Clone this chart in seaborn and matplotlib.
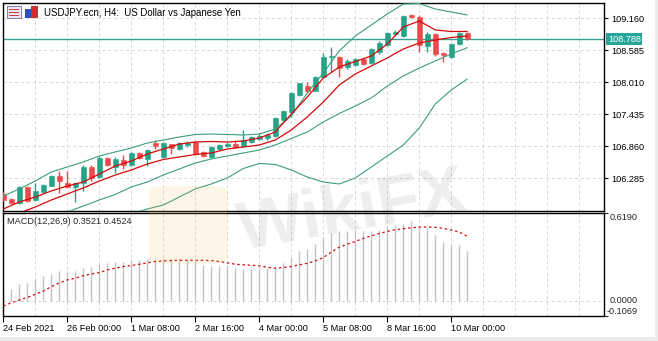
import numpy as np
import pandas as pd
import matplotlib
matplotlib.use("Agg")
import matplotlib.pyplot as plt
import seaborn as sns
from matplotlib.patches import Rectangle, FancyBboxPatch

sns.set_theme(style="white")
plt.rcParams["font.family"] = ["Liberation Sans", "DejaVu Sans"]

# ---------------- data ----------------
title = "USDJPY.ecn, H4:  US Dollar vs Japanese Yen"
macd_label = "MACD(12,26,9) 0.3521 0.4524"

opens = [106.00, 105.91, 105.84, 106.13, 105.89, 106.04, 106.15, 106.33, 106.20, 106.13,
         106.20, 106.49, 106.31, 106.65, 106.49, 106.61, 106.52, 106.74, 106.63, 106.92,
         106.67, 106.90, 106.81, 106.88, 106.94, 106.75, 106.67, 106.82, 106.87, 106.91,
         106.87, 106.94, 106.99, 107.00, 107.05, 107.33, 107.48, 107.78, 107.94, 107.86,
         108.10, 108.47, 108.47, 108.29, 108.32, 108.43, 108.36, 108.55, 108.68, 108.88,
         108.84, 109.22, 109.18, 108.66, 108.88, 108.54, 108.47, 108.70, 108.90]
highs = [106.04, 105.93, 106.15, 106.14, 106.20, 106.19, 106.34, 106.42, 106.42, 106.22,
         106.52, 106.52, 106.69, 106.67, 106.67, 106.70, 106.76, 106.76, 106.81, 106.97,
         106.94, 106.91, 106.94, 106.95, 106.95, 106.77, 106.87, 106.90, 106.93, 106.97,
         107.15, 107.05, 107.10, 107.10, 107.39, 107.52, 107.84, 108.00, 108.01, 108.13,
         108.53, 108.65, 108.49, 108.43, 108.45, 108.45, 108.63, 108.75, 108.92, 108.95,
         109.22, 109.24, 109.22, 108.92, 108.90, 108.55, 108.72, 108.92, 108.92]
lows = [105.87, 105.82, 105.83, 105.86, 105.87, 106.02, 106.14, 106.02, 106.11, 105.86,
        106.05, 106.23, 106.29, 106.50, 106.38, 106.45, 106.50, 106.63, 106.50, 106.82,
        106.65, 106.72, 106.79, 106.84, 106.70, 106.67, 106.65, 106.80, 106.84, 106.83,
        106.85, 106.92, 106.97, 106.98, 107.03, 107.31, 107.39, 107.76, 107.81, 107.85,
        108.09, 108.20, 108.10, 108.24, 108.30, 108.32, 108.34, 108.52, 108.66, 108.84,
        108.82, 109.16, 108.56, 108.56, 108.48, 108.38, 108.45, 108.68, 108.77]
closes = [105.89, 105.84, 106.13, 105.88, 106.06, 106.16, 106.33, 106.24, 106.13, 106.20,
          106.49, 106.29, 106.65, 106.52, 106.63, 106.52, 106.74, 106.65, 106.79, 106.87,
          106.92, 106.83, 106.92, 106.92, 106.72, 106.69, 106.85, 106.88, 106.90, 106.84,
          106.97, 107.02, 107.05, 107.06, 107.36, 107.50, 107.81, 107.99, 107.86, 108.11,
          108.47, 108.48, 108.26, 108.39, 108.43, 108.34, 108.61, 108.72, 108.90, 108.91,
          109.20, 109.18, 108.68, 108.88, 108.52, 108.50, 108.70, 108.90, 108.788]

# indicator lines read at every second bar
line_bars = list(range(0, 59, 2))
bb_upper = [105.967, 106.093, 106.236, 106.398, 106.488, 106.578, 106.686, 106.758, 106.829, 106.919,
            106.973, 107.027, 107.072, 107.081, 107.072, 107.063, 107.081, 107.171, 107.404, 107.818,
            108.177, 108.573, 108.842, 109.040, 109.237, 109.417, 109.426, 109.327, 109.273, 109.219]
bb_mid = [105.392, 105.464, 105.536, 105.607, 105.679, 105.787, 105.895, 105.994, 106.129, 106.218,
          106.344, 106.452, 106.560, 106.632, 106.686, 106.740, 106.793, 106.883, 107.000, 107.117,
          107.297, 107.449, 107.584, 107.728, 107.944, 108.123, 108.267, 108.393, 108.519, 108.632]
bb_lower = [np.nan] * 7 + [105.230, 105.643, 105.733, 105.805, 105.949, 106.093, 106.183, 106.290,
                           106.461, 106.551, 106.533, 106.434, 106.308, 106.218, 106.183, 106.290,
                           106.488, 106.686, 106.883, 107.189, 107.620, 107.872, 108.069]
ma_fast = [105.733, 105.859, 105.949, 106.057, 106.147, 106.218, 106.362, 106.506, 106.596, 106.722,
           106.811, 106.901, 106.937, 106.946, 106.937, 106.955, 107.009, 107.117, 107.440, 107.746,
           108.087, 108.285, 108.384, 108.483, 108.698, 109.004, 109.112, 108.950, 108.923, 108.923]
ma_slow = [105.572, 105.661, 105.769, 105.895, 106.003, 106.111, 106.236, 106.344, 106.434, 106.542,
           106.623, 106.668, 106.713, 106.740, 106.811, 106.847, 106.883, 106.973, 107.153, 107.387,
           107.656, 107.962, 108.159, 108.303, 108.447, 108.608, 108.716, 108.770, 108.815, 108.842]

macd_hist = [0.070, 0.082, 0.118, 0.125, 0.153, 0.174, 0.188, 0.209, 0.212, 0.209,
             0.233, 0.237, 0.261, 0.263, 0.270, 0.275, 0.284, 0.284, 0.292, 0.292,
             0.294, 0.292, 0.292, 0.287, 0.280, 0.252, 0.245, 0.245, 0.252, 0.228,
             0.221, 0.221, 0.228, 0.228, 0.240, 0.263, 0.303, 0.346, 0.362, 0.400,
             0.444, 0.475, 0.486, 0.486, 0.498, 0.486, 0.486, 0.498, 0.515, 0.529,
             0.541, 0.562, 0.515, 0.510, 0.458, 0.409, 0.388, 0.388, 0.352]
macd_signal = [-0.037, -0.014, 0.005, 0.024, 0.045, 0.068, 0.099, 0.125, 0.146, 0.158,
               0.176, 0.188, 0.198, 0.216, 0.228, 0.240, 0.247, 0.256, 0.266, 0.275,
               0.280, 0.282, 0.284, 0.284, 0.284, 0.284, 0.282, 0.275, 0.266, 0.256,
               0.252, 0.249, 0.245, 0.235, 0.228, 0.233, 0.240, 0.252, 0.263, 0.280,
               0.303, 0.341, 0.376, 0.397, 0.416, 0.437, 0.456, 0.472, 0.486, 0.498,
               0.505, 0.512, 0.517, 0.517, 0.515, 0.508, 0.496, 0.482, 0.4524]

price_ticks = [106.285, 106.860, 107.435, 108.010, 108.585, 109.160]
macd_ticks = [0.6190, 0.0000, -0.1069]
time_tick_bars = [0, 8, 16, 24, 32, 40, 48, 56]
time_labels = ["24 Feb 2021", "26 Feb 00:00", "1 Mar 08:00", "2 Mar 16:00",
               "4 Mar 00:00", "5 Mar 08:00", "8 Mar 16:00", "10 Mar 00:00"]

# ---------------- styling ----------------
BULL = "#26a386"
BEAR = "#ec4a4a"
MA_RED = "#d40a0a"
BB_GREEN = "#3c9f78"
GRID = "#d6d6d6"
PRICE_LINE = "#3a9e9a"
FS = 6.6

W, H = 658, 341
fig = plt.figure(figsize=(W / 100, H / 100), dpi=100, facecolor="white")

def fx(px):
    return px / W

def fy(py):
    return 1 - py / H

L, R = 3, 604
ax = fig.add_axes([fx(L), fy(211), fx(R - L), fy(3) - fy(211)])
ax2 = fig.add_axes([fx(L), fy(316), fx(R - L), fy(212.5) - fy(316)])

xlim = (-0.04, 75.09)
n = len(closes)
bars = np.arange(n)
df = pd.DataFrame({"bar": bars, "open": opens, "high": highs, "low": lows, "close": closes})
df["up"] = df["close"] >= df["open"]

for a in (ax, ax2):
    a.set_facecolor("white")
    a.set_xlim(*xlim)
    for s in a.spines.values():
        s.set_color("black")
        s.set_linewidth(1.0)
    # vertical grid every 4 bars
    for gx in range(0, 76, 4):
        a.axvline(gx, color=GRID, lw=0.7, dashes=(3, 3), zorder=0)

ax.set_ylim(105.697, 109.435)
for p in price_ticks:
    ax.axhline(p, color=GRID, lw=0.7, dashes=(3, 3), zorder=0)

# candles
cols = np.where(df["up"], BULL, BEAR)
ax.vlines(df["bar"], df["low"], df["high"], colors=cols, lw=1.0, zorder=3)
body_lo = np.minimum(df["open"], df["close"])
body_h = np.maximum(np.abs(df["close"] - df["open"]), 0.012)
ax.bar(df["bar"], body_h, bottom=body_lo, width=0.62, color=cols, edgecolor=cols,
       linewidth=0.4, zorder=4)

# indicator lines
lines_df = pd.DataFrame({"bar": line_bars, "bb_upper": bb_upper, "bb_mid": bb_mid,
                         "bb_lower": bb_lower, "ma_fast": ma_fast, "ma_slow": ma_slow})
for col, c, lw in [("bb_upper", BB_GREEN, 0.8), ("bb_mid", BB_GREEN, 0.8), ("bb_lower", BB_GREEN, 0.8),
                   ("ma_fast", MA_RED, 0.9), ("ma_slow", MA_RED, 0.9)]:
    sub = lines_df[["bar", col]].dropna()
    sns.lineplot(data=sub, x="bar", y=col, ax=ax, color=c, lw=lw, legend=False, zorder=5)

# current price line and label
last = closes[-1]
ax.axhline(last, color=PRICE_LINE, lw=1.0, zorder=2)
ax.set_xlabel("")
ax.set_ylabel("")
ax.yaxis.tick_right()
ax.set_yticks(price_ticks)
ax.set_yticklabels([f"{p:.3f}" for p in price_ticks], fontsize=FS)
ax.tick_params(axis="y", which="both", direction="out", length=3, width=0.8, pad=2,
               colors="black", right=True, left=False)
ax.set_xticks([])
ax.text(1.0065, last, f"{last:.3f}", transform=ax.get_yaxis_transform(), fontsize=FS,
        color="white", va="center", ha="left",
        bbox=dict(boxstyle="square,pad=0.18", fc="#26a69a", ec="none"), zorder=10,
        clip_on=False)

# MACD panel
ax2.set_ylim(-0.1069, 0.619)
ax2.axhline(0.0, color=GRID, lw=0.7, dashes=(3, 3), zorder=0)
ax2.vlines(bars, 0, macd_hist, colors="#c3c3c3", lw=1.0, zorder=2)
sig_df = pd.DataFrame({"bar": bars, "signal": macd_signal})
sns.lineplot(data=sig_df, x="bar", y="signal", ax=ax2, color="#d01010", lw=0.9, legend=False, zorder=3)
ax2.lines[-1].set_linestyle((0, (2, 2.2)))
ax2.set_xlabel("")
ax2.set_ylabel("")
ax2.yaxis.tick_right()
ax2.set_yticks([macd_ticks[0], macd_ticks[2]])
ax2.set_yticklabels(["", ""])
ax2.tick_params(axis="y", direction="out", length=3, width=0.8, right=True, left=False)
ytr = ax2.get_yaxis_transform()
ax2.text(1.01, macd_ticks[0], f"{macd_ticks[0]:.4f}", transform=ytr, fontsize=FS, va="top", ha="left")
ax2.text(1.01, macd_ticks[1], f"{macd_ticks[1]:.4f}", transform=ytr, fontsize=FS, va="center", ha="left")
ax2.text(1.004, macd_ticks[2], f"{macd_ticks[2]:.4f}", transform=ytr, fontsize=FS, va="bottom", ha="left")

ax2.set_xticks(time_tick_bars)
ax2.set_xticklabels(time_labels, fontsize=FS, ha="left")
ax2.tick_params(axis="x", direction="out", length=4, width=0.8, pad=1.5, bottom=True, colors="black")
for lab in ax2.get_xticklabels():
    lab.set_horizontalalignment("left")

# texts
fig.text(fx(44), fy(12.5), title, fontsize=6.9, va="center", ha="left", color="black")
ax2.text(0.007, 0.955, macd_label, transform=ax2.transAxes, fontsize=FS, va="top", ha="left")

# small window icons next to the title
fig.add_artist(Rectangle((fx(7), fy(18)), fx(14), fy(6) - fy(18), transform=fig.transFigure,
                         fc="#e8e8f4", ec="#6a6a9a", lw=0.6))
for k in range(3):
    fig.add_artist(Rectangle((fx(9), fy(10 + 3 * k)), fx(10), fy(9) - fy(10), transform=fig.transFigure,
                             fc="#d23c3c", ec="none"))
fig.add_artist(Rectangle((fx(25), fy(18)), fx(6), fy(9) - fy(18), transform=fig.transFigure,
                         fc="#2d4fc0", ec="none"))
fig.add_artist(Rectangle((fx(31), fy(18)), fx(7), fy(6) - fy(18), transform=fig.transFigure,
                         fc="#c83030", ec="none"))

# faint watermark
fig.add_artist(FancyBboxPatch((fx(152), fy(262)), fx(72), fy(188) - fy(262),
                              boxstyle="round,pad=0.005,rounding_size=0.02",
                              transform=fig.transFigure, fc="#f6c14a", ec="none", alpha=0.13))
fig.text(fx(352), fy(212), "WikiFX", fontsize=50, fontweight="bold", color="#000000",
         alpha=0.07, rotation=10, ha="center", va="center")

# outer light frame
fig.add_artist(Rectangle((0, 0), 1, fy(337), transform=fig.transFigure, fc="#ececec", ec="none"))
fig.add_artist(Rectangle((fx(655), 0), fx(3), 1, transform=fig.transFigure, fc="#ececec", ec="none"))

fig.savefig("out.png", dpi=100, facecolor="white")
